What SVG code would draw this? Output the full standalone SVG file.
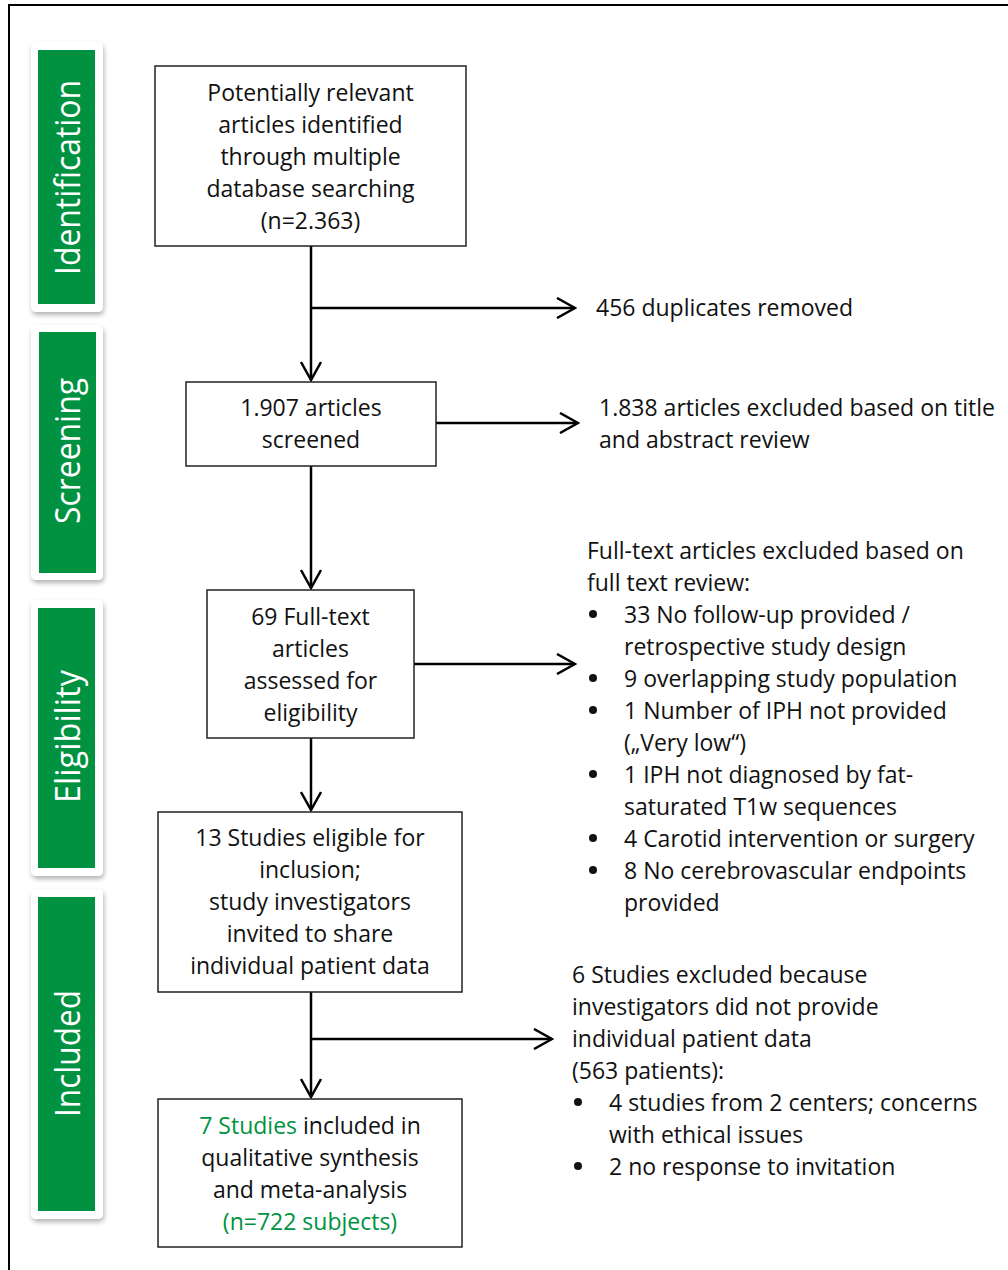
<svg xmlns="http://www.w3.org/2000/svg" width="1008" height="1270" viewBox="0 0 1008 1270">
<defs>
<style>
.t{font-family:"Open Sans","Liberation Sans",sans-serif;font-size:23px;fill:#111}
.c{text-anchor:middle}
.g{fill:#009240}
.side{font-family:"Open Sans","Liberation Sans",sans-serif;font-size:34px;fill:#fff;text-anchor:middle}
.box{fill:#fff;stroke:#222;stroke-width:1.5}
.card{fill:#fff;filter:url(#sh)}
.green{fill:#009240}
.ln{fill:none;stroke:#000;stroke-width:2.5}
.b{fill:#111}
</style>
<filter id="sh" x="-30%" y="-10%" width="160%" height="120%">
<feDropShadow dx="1" dy="3" stdDeviation="2.5" flood-color="#000" flood-opacity="0.3"/>
</filter>
<marker id="ah" viewBox="0 0 22 22" refX="20" refY="11" markerWidth="22" markerHeight="22" markerUnits="userSpaceOnUse" orient="auto">
<path d="M2,1 L20,11 L2,21" fill="none" stroke="#000" stroke-width="2.5"/>
</marker>
</defs>
<rect x="9" y="5" width="1020" height="1290" fill="#fff" stroke="#000" stroke-width="2"/>

<g id="side-identification">
<rect class="card" x="31" y="42" width="72" height="270" rx="5"/>
<rect class="green" x="38" y="50" width="57" height="254"/>
<text class="side" transform="translate(80,177.5) rotate(-90)" textLength="195" lengthAdjust="spacingAndGlyphs">Identification</text>
</g>
<g id="side-screening">
<rect class="card" x="31" y="325" width="72" height="255" rx="5"/>
<rect class="green" x="39" y="332" width="57" height="241"/>
<text class="side" transform="translate(80,451) rotate(-90)" textLength="146" lengthAdjust="spacingAndGlyphs">Screening</text>
</g>
<g id="side-eligibility">
<rect class="card" x="31" y="600" width="72" height="276" rx="5"/>
<rect class="green" x="38" y="608" width="57" height="260"/>
<text class="side" transform="translate(80,736.5) rotate(-90)" textLength="133" lengthAdjust="spacingAndGlyphs">Eligibility</text>
</g>
<g id="side-included">
<rect class="card" x="31" y="889" width="72" height="330" rx="5"/>
<rect class="green" x="38" y="897" width="57" height="314"/>
<text class="side" transform="translate(80,1053.5) rotate(-90)" textLength="127" lengthAdjust="spacingAndGlyphs">Included</text>
</g>

<g id="connectors">
<line class="ln" x1="311" y1="246" x2="311" y2="380" marker-end="url(#ah)"/>
<line class="ln" x1="311" y1="308" x2="575" y2="308" marker-end="url(#ah)"/>
<line class="ln" x1="436" y1="423" x2="578" y2="423" marker-end="url(#ah)"/>
<line class="ln" x1="311" y1="466" x2="311" y2="588" marker-end="url(#ah)"/>
<line class="ln" x1="414" y1="664" x2="575" y2="664" marker-end="url(#ah)"/>
<line class="ln" x1="311" y1="738" x2="311" y2="810" marker-end="url(#ah)"/>
<line class="ln" x1="311" y1="992" x2="311" y2="1097" marker-end="url(#ah)"/>
<line class="ln" x1="311" y1="1039" x2="552" y2="1039" marker-end="url(#ah)"/>
</g>

<g id="n1">
<rect class="box" x="155" y="66" width="311" height="180"/>
<text class="t c" x="310.5" y="101">Potentially relevant</text>
<text class="t c" x="310.5" y="133">articles identified</text>
<text class="t c" x="310.5" y="165">through multiple</text>
<text class="t c" x="310.5" y="197">database searching</text>
<text class="t c" x="310.5" y="229">(n=2.363)</text>
</g>
<g id="n2">
<rect class="box" x="186" y="382" width="250" height="84"/>
<text class="t c" x="311" y="416">1.907 articles</text>
<text class="t c" x="311" y="448">screened</text>
</g>
<g id="n3">
<rect class="box" x="207" y="590" width="207" height="148"/>
<text class="t c" x="310.5" y="625">69 Full-text</text>
<text class="t c" x="310.5" y="657">articles</text>
<text class="t c" x="310.5" y="689">assessed for</text>
<text class="t c" x="310.5" y="721">eligibility</text>
</g>
<g id="n4">
<rect class="box" x="158" y="812" width="304" height="180"/>
<text class="t c" x="310" y="846">13 Studies eligible for</text>
<text class="t c" x="310" y="878">inclusion;</text>
<text class="t c" x="310" y="910">study investigators</text>
<text class="t c" x="310" y="942">invited to share</text>
<text class="t c" x="310" y="974">individual patient data</text>
</g>
<g id="n5">
<rect class="box" x="158" y="1099" width="304" height="148"/>
<text class="t c" x="310" y="1134"><tspan class="g">7 Studies</tspan> included in</text>
<text class="t c" x="310" y="1166">qualitative synthesis</text>
<text class="t c" x="310" y="1198">and meta-analysis</text>
<text class="t c g" x="310" y="1230">(n=722 subjects)</text>
</g>

<g id="ex1">
<text class="t" x="596" y="316">456 duplicates removed</text>
</g>
<g id="ex2">
<text class="t" x="599" y="416">1.838 articles excluded based on title</text>
<text class="t" x="599" y="448">and abstract review</text>
</g>
<g id="ex3">
<text class="t" x="587" y="559">Full-text articles excluded based on</text>
<text class="t" x="587" y="591">full text review:</text>
<circle class="b" cx="593" cy="614" r="4"/><text class="t" x="624" y="623">33 No follow-up provided /</text>
<text class="t" x="624" y="655">retrospective study design</text>
<circle class="b" cx="593" cy="678" r="4"/><text class="t" x="624" y="687">9 overlapping study population</text>
<circle class="b" cx="593" cy="710" r="4"/><text class="t" x="624" y="719">1 Number of IPH not provided</text>
<text class="t" x="624" y="751">(„Very low“)</text>
<circle class="b" cx="593" cy="774" r="4"/><text class="t" x="624" y="783">1 IPH not diagnosed by fat-</text>
<text class="t" x="624" y="815">saturated T1w sequences</text>
<circle class="b" cx="593" cy="838" r="4"/><text class="t" x="624" y="847">4 Carotid intervention or surgery</text>
<circle class="b" cx="593" cy="870" r="4"/><text class="t" x="624" y="879">8 No cerebrovascular endpoints</text>
<text class="t" x="624" y="911">provided</text>
</g>
<g id="ex4">
<text class="t" x="572" y="983">6 Studies excluded because</text>
<text class="t" x="572" y="1015">investigators did not provide</text>
<text class="t" x="572" y="1047">individual patient data</text>
<text class="t" x="572" y="1079">(563 patients):</text>
<circle class="b" cx="578" cy="1102" r="4"/><text class="t" x="609" y="1111">4 studies from 2 centers; concerns</text>
<text class="t" x="609" y="1143">with ethical issues</text>
<circle class="b" cx="578" cy="1166" r="4"/><text class="t" x="609" y="1175">2 no response to invitation</text>
</g>
</svg>
